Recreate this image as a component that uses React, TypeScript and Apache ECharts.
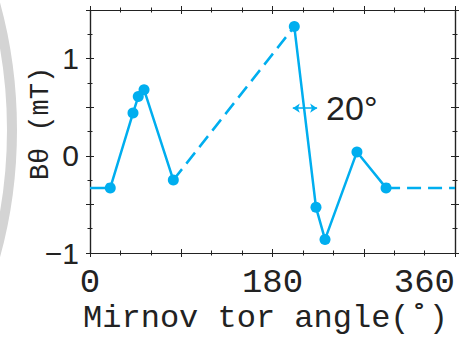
import React, { useEffect, useRef } from "react";
import * as echarts from "echarts";

// Mirnov probe toroidal angles (deg) and measured B-theta (mT)
const angles = [20, 42.4, 47.6, 53.3, 82.2, 201.5, 222.9, 231.8, 263.3, 292];
const btheta = [-0.33, 0.44, 0.61, 0.68, -0.25, 1.33, -0.53, -0.86, 0.04, -0.33];
// segments: solid groups of point indices, dashed links between them
const solidGroups = [[0, 1, 2, 3, 4], [5, 6, 7, 8, 9]];
const dashedLinks = [[4, 5]];
const xTickLabels = [0, 180, 360];
const yTickLabels = [-1, 0, 1];
const arrowSpan = [200, 224];
const arrowLevel = 0.49;
const arrowText = "20°";

const BLUE = "#00AEEF";
const INK = "#222222";
const MONO = "'Liberation Mono', 'Courier New', monospace";
const SANS = "'Liberation Sans', Arial, sans-serif";

export default function App() {
  const ref = useRef<HTMLDivElement>(null);
  useEffect(() => {
    document.body.style.margin = "0";
    const chart = echarts.init(ref.current!, null, { renderer: "svg" });
    const pt = (i: number) => [angles[i], btheta[i]];
    const last = angles.length - 1;
    const series: any[] = [];
    solidGroups.forEach((g, gi) => {
      const data: any[] = g.map((i) => pt(i));
      if (gi === 0) data.unshift({ value: [0, btheta[last]], symbol: "none" });
      series.push({
        type: "line",
        data,
        symbol: "circle",
        symbolSize: 11,
        showAllSymbol: true,
        lineStyle: { color: BLUE, width: 2.5 },
        itemStyle: { color: BLUE },
        z: 3,
      });
    });
    dashedLinks.forEach(([a, b]) => {
      series.push({
        type: "line",
        data: [pt(a), pt(b)],
        symbol: "none",
        lineStyle: { color: BLUE, width: 2.5, type: [14, 7] },
        z: 2,
      });
    });
    // wrap-around from last probe to 360
    series.push({
      type: "line",
      data: [pt(last), [360, btheta[last]]],
      symbol: "none",
      lineStyle: { color: BLUE, width: 2.5, type: [14, 7] },
      z: 2,
      markLine: {
        silent: true,
        symbol: ["arrow", "arrow"],
        symbolSize: [7, 7],
        lineStyle: { color: BLUE, width: 1.5, type: "solid" },
        label: {
          show: true,
          position: "end",
          formatter: arrowText,
          distance: 9,
          fontFamily: SANS,
          fontSize: 34,
          color: INK,
        },
        data: [[{ coord: [arrowSpan[0], arrowLevel] }, { coord: [arrowSpan[1], arrowLevel] }]],
      },
    });

    const axisLine = { show: true, onZero: false, lineStyle: { color: INK, width: 1.2 } };
    const xBase = (position: string, inside: boolean, labels: boolean) => ({
      type: "value",
      min: 0,
      max: 360,
      interval: 90,
      position,
      axisLine,
      axisTick: { show: true, inside, length: 4, lineStyle: { color: INK, width: 1 } },
      minorTick: { show: true, splitNumber: 3, length: 2.5, lineStyle: { color: INK, width: 1 } },
      splitLine: { show: false },
      axisLabel: labels
        ? {
            show: true,
            margin: 13,
            fontFamily: MONO,
            fontSize: 34,
            color: INK,
            alignMaxLabel: "right",
            formatter: (v: number) => (xTickLabels.includes(v) ? String(v) : ""),
          }
        : { show: false },
    });
    const yBase = (position: string, inside: boolean, labels: boolean) => ({
      type: "value",
      min: -1,
      max: 1.5,
      interval: 0.5,
      position,
      axisLine,
      axisTick: { show: true, inside, length: 4, lineStyle: { color: INK, width: 1 } },
      minorTick: { show: true, splitNumber: 2, length: 2.5, lineStyle: { color: INK, width: 1 } },
      splitLine: { show: false },
      axisLabel: labels
        ? {
            show: true,
            margin: 11,
            fontFamily: SANS,
            fontSize: 30,
            color: INK,
            formatter: (v: number) =>
              yTickLabels.includes(v) ? (v < 0 ? "\u2212" + Math.abs(v) : String(v)) : "",
          }
        : { show: false },
    });

    chart.setOption({
      animation: false,
      grid: { left: 90, right: 15, top: 10, bottom: 84, containLabel: false, outerBoundsMode: "none" },
      graphic: [
        {
          type: "circle",
          shape: { cx: -463, cy: 130, r: 475 },
          style: { fill: "none", stroke: "#d4d4d4", lineWidth: 10 },
          z: -1,
        },
      ],
      xAxis: [
        {
          ...xBase("bottom", false, true),
          name: "Mirnov tor angle(˚)",
          nameLocation: "middle",
          nameGap: 49,
          nameMoveOverlap: false,
          nameTextStyle: {
            fontFamily: MONO,
            fontSize: 32,
            color: INK,
            padding: [0, 14, 0, 0],
          },
        },
        xBase("bottom", true, false),
        xBase("top", false, false),
        xBase("top", true, false),
      ],
      yAxis: [
        {
          ...yBase("left", false, true),
          name: "Bθ (mT)",
          nameLocation: "middle",
          nameGap: 36,
          nameMoveOverlap: false,
          nameRotate: 90,
          nameTextStyle: { fontFamily: MONO, fontSize: 27, color: INK, padding: [0, 0, 0, 16] },
        },
        yBase("left", true, false),
        yBase("right", false, false),
        yBase("right", true, false),
      ],
      series,
    });
    return () => chart.dispose();
  }, []);
  return <div ref={ref} style={{ width: 470, height: 337 }} />;
}
